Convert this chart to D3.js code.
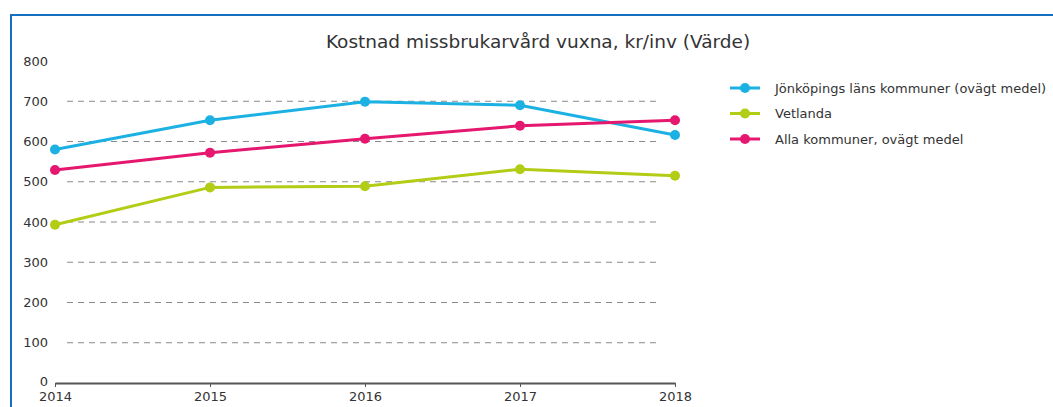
<!DOCTYPE html>
<html>
<head>
<meta charset="utf-8">
<script src="https://cdn.jsdelivr.net/npm/d3@7"></script>
<style>
  body { margin: 0; background: #fff; }
  text { font-family: "DejaVu Sans", Verdana, sans-serif; fill: #333; }
</style>
</head>
<body>
<div id="chart"></div>
<script>
// data
const years = [2014, 2015, 2016, 2017, 2018];
const seriesNames = ["Jönköpings läns kommuner (ovägt medel)", "Vetlanda", "Alla kommuner, ovägt medel"];
const jonkoping = [580, 653, 699, 690, 616];
const vetlanda = [393, 486, 489, 531, 515];
const allaKommuner = [529, 572, 607, 639, 653];
const yTicks = [0, 100, 200, 300, 400, 500, 600, 700, 800];
const colors = ["#1cb1e3", "#b3cc16", "#e5176f"];
const title = "Kostnad missbrukarvård vuxna, kr/inv (Värde)";

const width = 1053, height = 407;
const series = [jonkoping, vetlanda, allaKommuner];

const svg = d3.select('#chart').append('svg')
    .attr('width', width)
    .attr('height', height);

// frame
svg.append('rect')
    .attr('x', 11).attr('y', 15)
    .attr('width', width + 10).attr('height', height)
    .attr('fill', 'none')
    .attr('stroke', '#1570c0')
    .attr('stroke-width', 2);

const x = d3.scalePoint().domain(years).range([55, 675]);
const y = d3.scaleLinear().domain([0, 800]).range([383, 61]);

// gridlines
svg.append('g').selectAll('line')
    .data(yTicks.filter(d => d > 0 && d < 800))
    .join('line')
    .attr('x1', 67).attr('x2', 660)
    .attr('y1', d => y(d)).attr('y2', d => y(d))
    .attr('stroke', '#8a8a8a')
    .attr('stroke-width', 1)
    .attr('stroke-dasharray', '6,5');

// y labels
svg.append('g').selectAll('text')
    .data(yTicks)
    .join('text')
    .attr('x', 48)
    .attr('y', d => y(d) - (d === 0 ? 2 : 0))
    .attr('dy', '0.35em')
    .attr('text-anchor', 'end')
    .attr('font-size', 13)
    .text(d => d);

// x axis
const xAxis = svg.append('g')
    .attr('transform', `translate(0,${y(0)})`)
    .call(d3.axisBottom(x).tickSize(4).tickSizeOuter(0).tickPadding(5));
xAxis.select('.domain').attr('stroke', '#555').attr('stroke-width', 2);
xAxis.selectAll('.tick line').attr('stroke', '#555');
xAxis.selectAll('.tick text')
    .attr('font-size', 13)
    .attr('font-family', '"DejaVu Sans", Verdana, sans-serif')
    .attr('fill', '#333');

// lines
const line = d3.line().x((d, i) => x(years[i])).y(d => y(d));
const lineGroup = svg.append('g');
series.forEach((s, k) => {
    lineGroup.append('path')
        .datum(s)
        .attr('d', line)
        .attr('fill', 'none')
        .attr('stroke', colors[k])
        .attr('stroke-width', 3);
    lineGroup.selectAll(`circle.s${k}`)
        .data(s)
        .join('circle')
        .classed(`s${k}`, true)
        .attr('cx', (d, i) => x(years[i]))
        .attr('cy', d => y(d))
        .attr('r', 5)
        .attr('fill', colors[k]);
});

// title
svg.append('text')
    .attr('x', 538).attr('y', 48)
    .attr('text-anchor', 'middle')
    .attr('font-size', 18.5)
    .attr('fill', '#222')
    .text(title);

// legend
const legend = svg.append('g').selectAll('g')
    .data(seriesNames)
    .join('g')
    .attr('transform', (d, i) => `translate(730,${88 + i * 25.5})`);
legend.append('line')
    .attr('x1', 0).attr('x2', 30)
    .attr('stroke', (d, i) => colors[i])
    .attr('stroke-width', 3);
legend.append('circle')
    .attr('cx', 15).attr('r', 5)
    .attr('fill', (d, i) => colors[i]);
legend.append('text')
    .attr('x', 45).attr('dy', '0.35em')
    .attr('font-size', 13)
    .text(d => d);
</script>
</body>
</html>
